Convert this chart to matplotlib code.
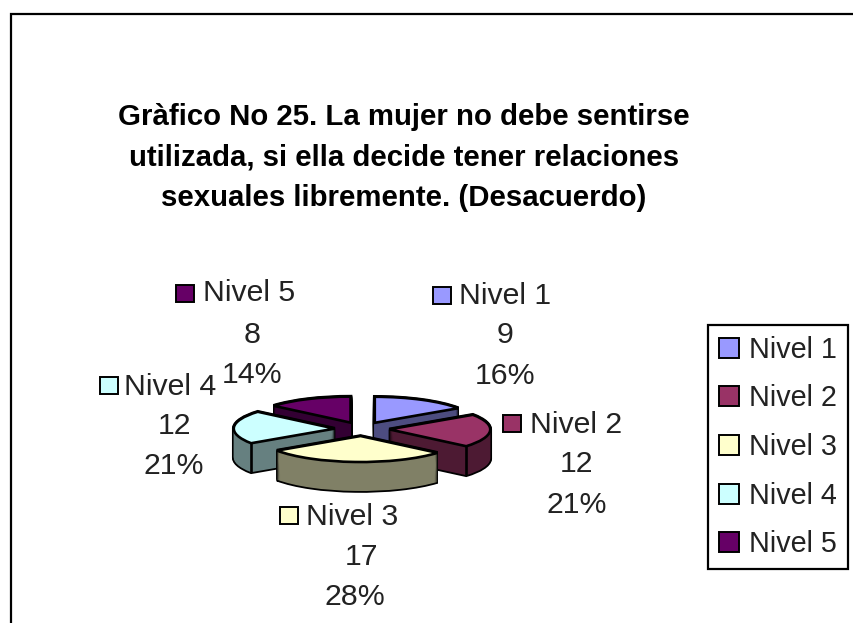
import math
import matplotlib
matplotlib.use("Agg")
import matplotlib.pyplot as plt
from matplotlib.patches import Patch, Rectangle

plt.rcParams['font.family'] = ['Liberation Sans', 'DejaVu Sans']

W, H = 854, 623
categories = ["Nivel 1", "Nivel 2", "Nivel 3", "Nivel 4", "Nivel 5"]
values = [9, 12, 17, 12, 8]
percent_labels = ["16%", "21%", "28%", "21%", "14%"]
title_lines = ["Gràfico No 25. La mujer no debe sentirse",
               "utilizada, si ella decide tener relaciones",
               "sexuales libremente. (Desacuerdo)"]

top_colors = ["#9999FF", "#993366", "#FFFFCC", "#CCFFFF", "#660066"]
side_colors = ["#4D4D80", "#4D1A33", "#808066", "#668080", "#330033"]

# layout in pixels
CX, CY, RX, RY, DEPTH = 362, 429, 101, 26, 29
EXPLODE = 0.27
LAYERS = 30
draw_order = [4, 0, 3, 1, 2]
swatches = [(433, 287), (503, 415), (280, 507), (100, 377), (176, 285)]
name_pos = [(459, 296), (530, 425), (306, 517), (124, 387), (203, 293)]
value_pos = [(505, 335), (577, 464), (362, 557), (175, 426), (252, 335)]
pct_pos = [(505, 376), (577, 505), (355, 597), (174, 466), (252, 375)]

fig = plt.figure(figsize=(W / 100, H / 100), dpi=100, facecolor="white")

# overlay in pixel coordinates
ov = fig.add_axes([0, 0, 1, 1])
ov.set_xlim(0, W)
ov.set_ylim(H, 0)
ov.axis("off")
ov.plot([11, 11, W], [H, 14, 14], color="black", lw=1.6, solid_joinstyle="miter")

# pie axes: one data unit = RX px horizontally, RY px vertically
SPAN = 3.0
pie_ax = fig.add_axes([(CX - SPAN * RX) / W, 1 - (CY + SPAN * RY) / H,
                       2 * SPAN * RX / W, 2 * SPAN * RY / H])
pie_ax.patch.set_alpha(0)

total = sum(values)
starts, acc = [], 0
for v in values:
    starts.append(acc)
    acc += v


def slice_at(i, dy, face, edge, lw):
    """One slice through ax.pie; angles measured clockwise from 12 o'clock."""
    wedges, _ = pie_ax.pie([values[i] / total], normalize=False,
                           startangle=90 - 360 * starts[i] / total,
                           counterclock=False, explode=[EXPLODE],
                           center=(0, -dy), radius=1, colors=[face],
                           wedgeprops=dict(edgecolor=edge, linewidth=lw))
    return wedges[0]


step = (DEPTH / RY) / LAYERS
for i in draw_order:
    for k in range(LAYERS, -1, -1):          # silhouette
        slice_at(i, k * step, side_colors[i], "black", 2.6)
    for k in range(LAYERS, 0, -1):           # fill interior of the wall
        slice_at(i, k * step, side_colors[i], "none", 0)
    top = slice_at(i, 0, top_colors[i], "black", 1.9)
    # vertical wall edges at front-facing outer corners
    for theta in (top.theta1, top.theta2):
        cx, cy = top.center
        x = cx + math.cos(math.radians(theta))
        y = cy + math.sin(math.radians(theta))
        if y < cy and abs(x - cx) < 0.97 and i != 2:
            pie_ax.plot([x, x], [y, y - DEPTH / RY], color="black", lw=1.9,
                        solid_capstyle="butt", zorder=top.get_zorder() + 0.1)

pie_ax.set_aspect("auto")
pie_ax.set_xlim(-SPAN, SPAN)
pie_ax.set_ylim(-SPAN, SPAN)
pie_ax.axis("off")

# title
for line, y in zip(title_lines, (117, 157, 198)):
    ov.text(404, y, line, ha="center", va="center", fontsize=21.2,
            fontweight="bold", color="black")

# data labels
for i, name in enumerate(categories):
    sx, sy = swatches[i]
    ov.add_patch(Rectangle((sx, sy), 18, 17, facecolor=top_colors[i],
                           edgecolor="black", lw=1.4))
    ov.text(*name_pos[i], name, ha="left", va="center", fontsize=21.8, color="#222222")
    ov.text(*value_pos[i], str(values[i]), ha="center", va="center", fontsize=21.8, color="#222222")
    ov.text(*pct_pos[i], percent_labels[i], ha="center", va="center", fontsize=21.8, color="#222222")

# legend
handles = [Patch(facecolor=c, edgecolor="black", lw=1.4) for c in top_colors]
leg = fig.legend(handles, categories, loc="upper left",
                 bbox_to_anchor=(708 / W, 1 - 325 / H), bbox_transform=fig.transFigure,
                 borderaxespad=0, fontsize=20.7, frameon=True, fancybox=False,
                 edgecolor="black", framealpha=1, handlelength=0.7, handleheight=0.7,
                 handletextpad=0.36, labelspacing=0.72, borderpad=0.37)
leg.get_frame().set_linewidth(1.6)
for t in leg.get_texts():
    t.set_color("#222222")

fig.savefig("out.png", dpi=100, facecolor="white")
